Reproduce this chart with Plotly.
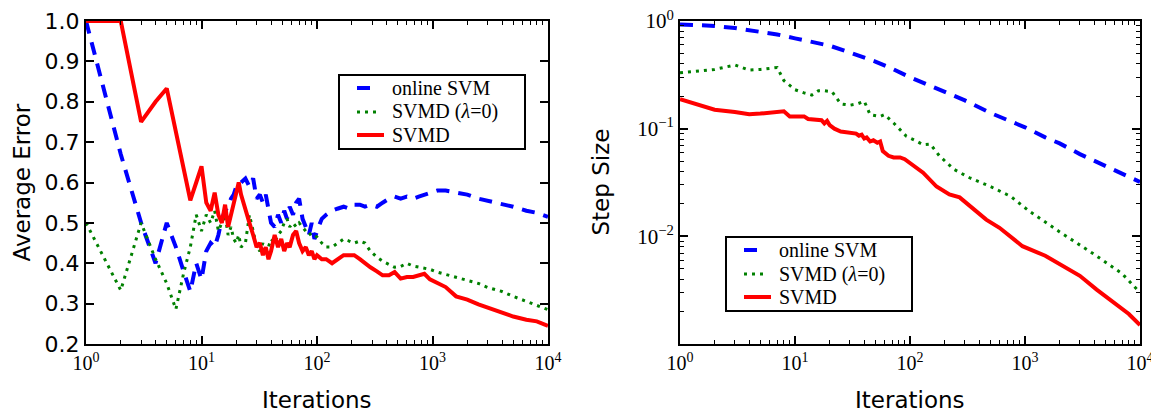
import plotly.graph_objects as go

# ---------------- data: left panel (Average Error) ----------------
iters_left = [1, 2, 3, 4, 5, 6, 7, 8, 9, 10, 11, 12, 13, 14, 15, 16, 17, 18, 19, 20, 21,
              22, 24, 26, 28, 30, 32, 34, 36, 38, 40,
              43, 46, 49, 52, 55, 58, 62, 66, 70, 75, 80, 85, 90, 95, 100,
              110, 120, 135, 150, 170, 190, 210, 235, 260, 290,
              330, 370, 420, 470, 530, 600, 680, 760, 850, 950,
              1100, 1300, 1600, 2000, 2500, 3000, 4000, 5000, 6500, 8000, 10000]

err_online = [1.0, 0.67, 0.50, 0.40, 0.50, 0.44, 0.38, 0.33, 0.40, 0.36, 0.43, 0.45, 0.44, 0.47, 0.51, 0.53, 0.54, 0.56, 0.57, 0.59, 0.60,
              0.60, 0.61, 0.59, 0.61, 0.56, 0.57, 0.55, 0.57, 0.53, 0.50,
              0.49, 0.52, 0.50, 0.53, 0.51, 0.54, 0.52, 0.55, 0.56, 0.51, 0.49, 0.47, 0.50, 0.46, 0.48,
              0.51, 0.52, 0.53, 0.535, 0.54, 0.535, 0.545, 0.545, 0.54, 0.545,
              0.54, 0.55, 0.56, 0.565, 0.56, 0.565, 0.56, 0.565, 0.57, 0.575,
              0.58, 0.58, 0.576, 0.57, 0.56, 0.555, 0.548, 0.54, 0.53, 0.525, 0.515]

err_svmd0 = [0.50, 0.333, 0.50, 0.41, 0.35, 0.286, 0.375, 0.44, 0.52, 0.48, 0.52, 0.50, 0.53, 0.48, 0.50, 0.52, 0.47, 0.49, 0.46, 0.45, 0.47,
             0.44, 0.45, 0.52, 0.48, 0.44, 0.43, 0.45, 0.42, 0.44, 0.46,
             0.45, 0.47, 0.48, 0.50, 0.51, 0.49, 0.50, 0.49, 0.50, 0.49, 0.48, 0.47, 0.475, 0.47, 0.465,
             0.45, 0.44, 0.44, 0.45, 0.46, 0.455, 0.45, 0.455, 0.45, 0.43,
             0.415, 0.405, 0.397, 0.39, 0.392, 0.40, 0.393, 0.39, 0.388, 0.385,
             0.378, 0.372, 0.365, 0.358, 0.35, 0.34, 0.33, 0.318, 0.305, 0.295, 0.285]

err_svmd = [1.0, 1.0, 0.75, 0.80, 0.833, 0.726, 0.635, 0.556, 0.60, 0.64, 0.55, 0.53, 0.575, 0.52, 0.50, 0.545, 0.49, 0.52, 0.55, 0.575, 0.60,
            0.57, 0.53, 0.50, 0.47, 0.44, 0.45, 0.42, 0.44, 0.41, 0.43,
            0.47, 0.44, 0.46, 0.43, 0.45, 0.44, 0.47, 0.48, 0.45, 0.43, 0.44, 0.42, 0.43, 0.41, 0.42,
            0.41, 0.41, 0.40, 0.41, 0.42, 0.42, 0.42, 0.41, 0.40, 0.39,
            0.38, 0.37, 0.37, 0.378, 0.362, 0.366, 0.366, 0.37, 0.374, 0.36,
            0.352, 0.341, 0.318, 0.31, 0.298, 0.29, 0.276, 0.268, 0.26, 0.256, 0.245]

# ---------------- data: right panel (Step Size) ----------------
iters_step_online = [1, 2, 3, 5, 7, 10, 15, 20, 30, 50, 70, 100, 150, 200, 300, 500, 700,
                     1000, 1500, 2000, 3000, 5000, 7000, 10000]
step_online = [0.93, 0.90, 0.86, 0.80, 0.75, 0.69, 0.63, 0.59, 0.51, 0.42, 0.36, 0.30, 0.25, 0.22,
               0.183, 0.14, 0.121, 0.103, 0.083, 0.073, 0.058, 0.045, 0.038, 0.032]

iters_step_svmd0 = [1, 2, 3, 4, 5, 6, 7, 8, 9, 10, 12, 14, 16, 18, 21, 25, 30, 35, 40, 45, 55, 60,
                    72, 93, 110, 130, 150, 180, 240, 330, 500, 750, 1100, 2000, 4000, 7000, 10000]
step_svmd0 = [0.33, 0.355, 0.39, 0.35, 0.355, 0.36, 0.37, 0.28, 0.25, 0.23, 0.215, 0.205, 0.225, 0.225,
              0.22, 0.17, 0.165, 0.17, 0.18, 0.135, 0.13, 0.135, 0.113, 0.085, 0.078, 0.071, 0.072,
              0.056, 0.042, 0.035, 0.029, 0.0235, 0.017, 0.011, 0.0068, 0.0045, 0.003]

iters_step_svmd = [1, 2, 3, 4, 5, 6, 7, 8, 9, 10, 12, 13, 15, 17, 18, 19, 20, 22, 25, 30, 34, 36, 38,
                   40, 42, 45, 48, 52, 55, 58, 65, 72, 82, 90, 100, 130, 170, 220, 270, 350, 460,
                   600, 950, 1500, 2000, 3000, 4200, 6000, 8000, 10000]
step_svmd = [0.188, 0.15, 0.143, 0.136, 0.138, 0.14, 0.141, 0.145, 0.13, 0.13, 0.13, 0.123, 0.122,
             0.12, 0.112, 0.118, 0.108, 0.10, 0.094, 0.091, 0.09, 0.086, 0.088, 0.081, 0.083, 0.076,
             0.078, 0.074, 0.076, 0.062, 0.056, 0.054, 0.054, 0.052, 0.048, 0.039, 0.029, 0.0245,
             0.023, 0.0183, 0.0143, 0.012, 0.0081, 0.0066, 0.0055, 0.0043, 0.0032, 0.0024, 0.0019, 0.0015]

series_names = ["online SVM", "SVMD (<i>λ</i>=0)", "SVMD"]
x_tick_vals = [1, 10, 100, 1000, 10000]
x_tick_text = ["10<sup>0</sup>", "10<sup>1</sup>", "10<sup>2</sup>", "10<sup>3</sup>", "10<sup>4</sup>"]
y2_tick_vals = [0.01, 0.1, 1]
y2_tick_text = ["10<sup>−2</sup>", "10<sup>−1</sup>", "10<sup>0</sup>"]

# ---------------- styling ----------------
BLUE, GREEN, RED = "#0000ff", "#008000", "#ff0000"
colors = [BLUE, GREEN, RED]
widths = [4, 3, 4]
DASH_BLUE = "13px,9px"
DOT_GREEN = "3px,5px"
dashes = [DASH_BLUE, DOT_GREEN, "solid"]
SERIF = "Liberation Serif"
SANS = "DejaVu Sans"

minor_x = [m * 10 ** e for e in range(0, 4) for m in range(2, 10)]
minor_y2 = [m * 10.0 ** e for e in range(-3, 0) for m in range(2, 10)]

# page geometry (browser body has an 8px default margin)
BODY = 8
PLOT_L, PLOT_R, PLOT_T, PLOT_B = 86, 1140, 21, 344
FIG_W, FIG_H = 1159 - BODY, 413 - BODY


def px2x(px):
    return (px - PLOT_L) / (PLOT_R - PLOT_L)


def px2y(py):
    return 1 - (py - PLOT_T) / (PLOT_B - PLOT_T)


fig = go.Figure()

left_vals = [err_online, err_svmd0, err_svmd]
for vals, col, w, d, nm in zip(left_vals, colors, widths, dashes, series_names):
    fig.add_trace(go.Scatter(x=iters_left, y=vals, mode="lines", name=nm, showlegend=False,
                             line=dict(color=col, width=w, dash=d), xaxis="x", yaxis="y"))

right_x = [iters_step_online, iters_step_svmd0, iters_step_svmd]
right_vals = [step_online, step_svmd0, step_svmd]
for xs, vals, col, w, d, nm in zip(right_x, right_vals, colors, widths, dashes, series_names):
    fig.add_trace(go.Scatter(x=xs, y=vals, mode="lines", name=nm, showlegend=False,
                             line=dict(color=col, width=w, dash=d), xaxis="x2", yaxis="y2"))

common = dict(showline=True, linewidth=2, linecolor="black", mirror="allticks",
              ticks="inside", ticklen=8, tickwidth=1.5, tickcolor="black",
              showgrid=False, zeroline=False, automargin=False, ticklabeloverflow="allow")
minor_style = dict(ticks="inside", ticklen=4, tickwidth=1, tickcolor="black", showgrid=False)
xfont = dict(family=SERIF, size=20, color="black")
y2font = dict(family=SERIF, size=21, color="black")

fig.update_layout(
    template="none",
    width=FIG_W, height=FIG_H, autosize=False,
    margin=dict(l=PLOT_L - BODY, r=FIG_W - (PLOT_R - BODY), t=PLOT_T - BODY, b=FIG_H - (PLOT_B - BODY)),
    paper_bgcolor="white", plot_bgcolor="white", showlegend=False,
    xaxis=dict(domain=[0, px2x(548)], type="log", range=[0, 4], anchor="y",
               tickmode="array", tickvals=x_tick_vals, ticktext=x_tick_text, tickfont=xfont,
               minor=dict(tickmode="array", tickvals=minor_x, **minor_style), **common),
    yaxis=dict(domain=[0, 1], range=[0.2, 1.0], dtick=0.1, tick0=0.2, tickformat=".1f", anchor="x",
               tickfont=dict(family=SANS, size=22, color="black"), **common),
    xaxis2=dict(domain=[px2x(680), 1], type="log", range=[0, 4], anchor="y2",
                tickmode="array", tickvals=x_tick_vals, ticktext=x_tick_text, tickfont=xfont,
                minor=dict(tickmode="array", tickvals=minor_x, **minor_style), **common),
    yaxis2=dict(domain=[0, 1], type="log", range=[-3, 0], anchor="x2",
                tickmode="array", tickvals=y2_tick_vals, ticktext=y2_tick_text, tickfont=y2font,
                minor=dict(tickmode="array", tickvals=minor_y2, **minor_style), **common),
)

# ---------------- legends (box, short line samples, serif labels) ----------------
legend_boxes = [(339, 75), (726, 237)]   # top-left corners in page pixels
BOX_W, BOX_H = 186, 74
row_dy = [13, 37, 60]
sample_len = [14, 20, 27]
for bx, by in legend_boxes:
    fig.add_shape(type="rect", xref="paper", yref="paper",
                  x0=px2x(bx), x1=px2x(bx + BOX_W), y0=px2y(by), y1=px2y(by + BOX_H),
                  line=dict(color="black", width=2), fillcolor="white", layer="above")
    for i, nm in enumerate(series_names):
        yy = px2y(by + row_dy[i])
        fig.add_shape(type="line", xref="paper", yref="paper",
                      x0=px2x(bx + 18), x1=px2x(bx + 18 + sample_len[i]), y0=yy, y1=yy,
                      line=dict(color=colors[i], width=widths[i], dash=dashes[i]), layer="above")
        fig.add_annotation(text=nm, xref="paper", yref="paper", x=px2x(bx + 51), y=yy,
                           xanchor="left", yanchor="middle", showarrow=False,
                           font=dict(family=SERIF, size=20, color="black"))

title_font = dict(family=SANS, size=23, color="black")
fig.add_annotation(text="Average Error", xref="paper", yref="paper", x=px2x(21), y=0.5,
                   textangle=-90, showarrow=False, font=title_font, xanchor="center", yanchor="middle")
fig.add_annotation(text="Step Size", xref="paper", yref="paper", x=px2x(600), y=0.5,
                   textangle=-90, showarrow=False, font=title_font, xanchor="center", yanchor="middle")
fig.add_annotation(text="Iterations", xref="paper", yref="paper", x=px2x(317), y=px2y(400),
                   showarrow=False, font=title_font, xanchor="center", yanchor="middle")
fig.add_annotation(text="Iterations", xref="paper", yref="paper", x=px2x(910), y=px2y(400),
                   showarrow=False, font=title_font, xanchor="center", yanchor="middle")

fig.write_html("out.html")
